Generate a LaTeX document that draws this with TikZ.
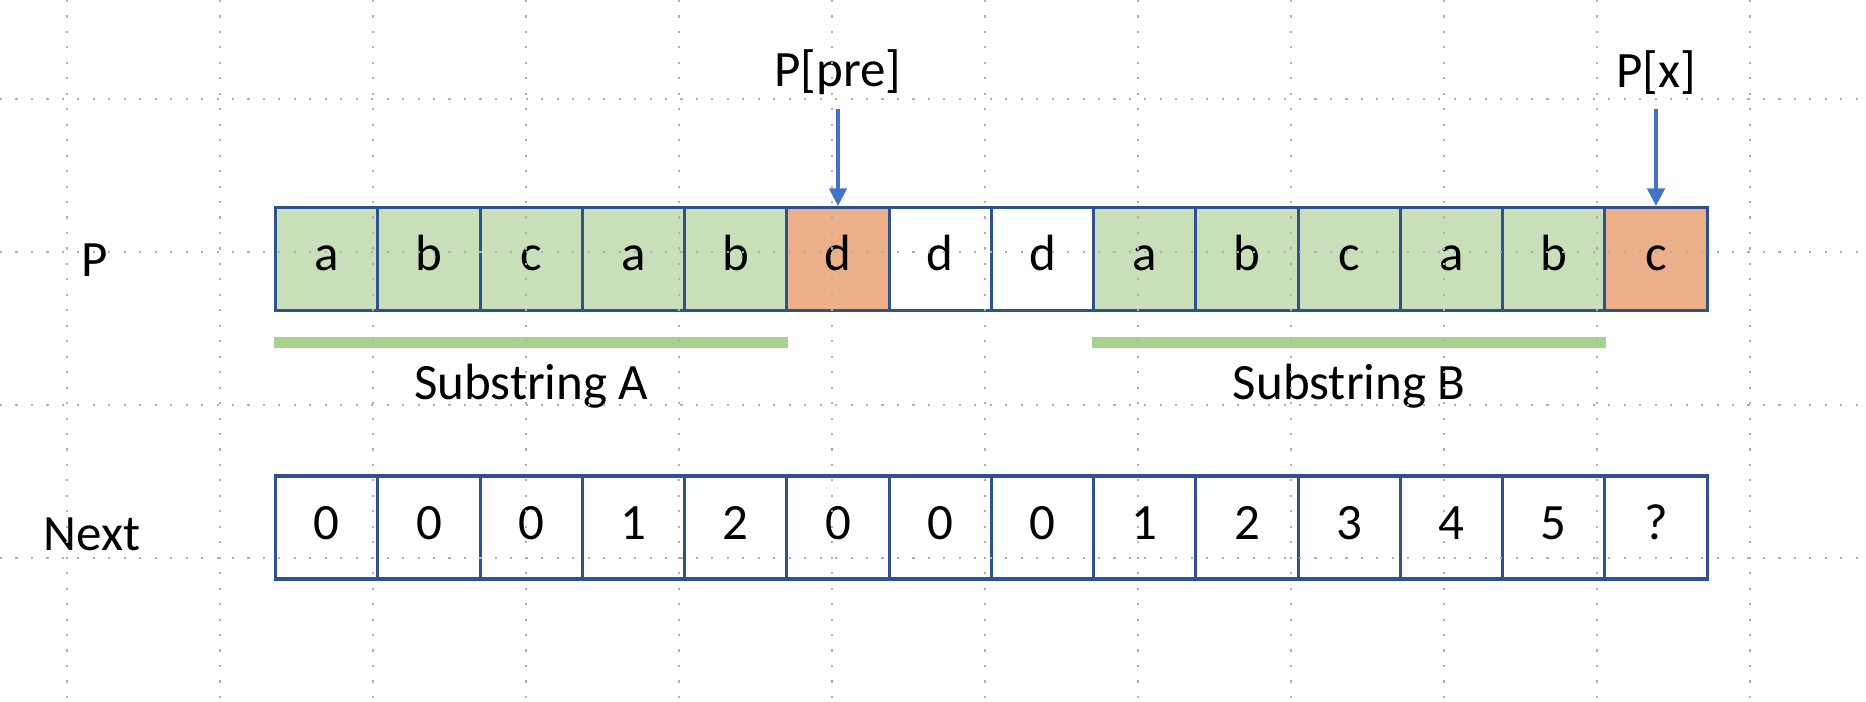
\documentclass[tikz,border=0pt]{standalone}
\usepackage{fontspec}
\setmainfont{Carlito}
\usetikzlibrary{arrows.meta, positioning}
\definecolor{cellblue}{RGB}{47,82,143}
\definecolor{ptrblue}{RGB}{68,114,196}
\definecolor{matchgreen}{RGB}{201,223,185}
\definecolor{bargreen}{RGB}{169,209,142}
\definecolor{missorange}{RGB}{235,176,138}
\definecolor{gridgray}{RGB}{175,175,175}

\begin{document}
\begin{tikzpicture}[font=\fontsize{14.5}{17}\selectfont, node distance=0.965cm,
    cellbox/.style={draw=cellblue, line width=0.9pt, minimum width=1.0225cm, minimum height=1.03cm, inner sep=0pt, text height=0.66em, text depth=0pt},
    cellg/.style={cellbox, fill=matchgreen},
    cello/.style={cellbox, fill=missorange},
    lbl/.style={inner sep=4pt},
    arr/.style={-{Triangle[width=5pt, length=5pt]}, ptrblue, line width=0.9pt},
    bar/.style={bargreen, line width=3.1pt},
    dots/.style={gridgray, line width=0.6pt, dash pattern=on 0.6pt off 3.8pt}]
  \useasboundingbox (0,0) rectangle (18.66,7.02);
  % pattern P and its next table
  \foreach \ch/\v/\s [count=\i] in {a/0/cellg, b/0/cellg, c/0/cellg, a/1/cellg, b/2/cellg, d/0/cello, d/0/cellbox, d/0/cellbox,
      a/1/cellg, b/2/cellg, c/3/cellg, a/4/cellg, b/5/cellg, c/?/cello} {
    \node[\s] (p\i) at (2.756+1.0225*\i-0.51125, 4.43) {\ch};
    \node[cellbox] (n\i) at (2.756+1.0225*\i-0.51125, 1.745) {\v};
  }
  \node (lp) at (0.95,4.42) {P};
  \node (lnext) at (0.92,1.68) {Next};
  % pointers
  \node[lbl, above=of p6] (lpre) {P[pre]};
  \node[lbl, above=of p14] (lx) {P[x]};
  \draw[arr] (lpre) -- (p6);
  \draw[arr] (lx) -- (p14);
  % matching substrings
  \draw[bar] ([yshift=-0.305cm]p1.south west) -- node[below=0.16cm, inner sep=0pt, text=black] (suba) {Substring A} ([yshift=-0.305cm]p5.south east);
  \draw[bar] ([yshift=-0.305cm]p9.south west) -- node[below=0.16cm, inner sep=0pt, text=black] (subb) {Substring B} ([yshift=-0.305cm]p13.south east);
  % grid dots on top
  \foreach \k in {0,...,11} \draw[dots] (0.67+1.53*\k,7.02) -- ++(0,-7.02);
  \foreach \y in {6.03,4.50,2.97,1.44} \draw[dots] (0,\y) -- (18.66,\y);
\end{tikzpicture}
\end{document}
